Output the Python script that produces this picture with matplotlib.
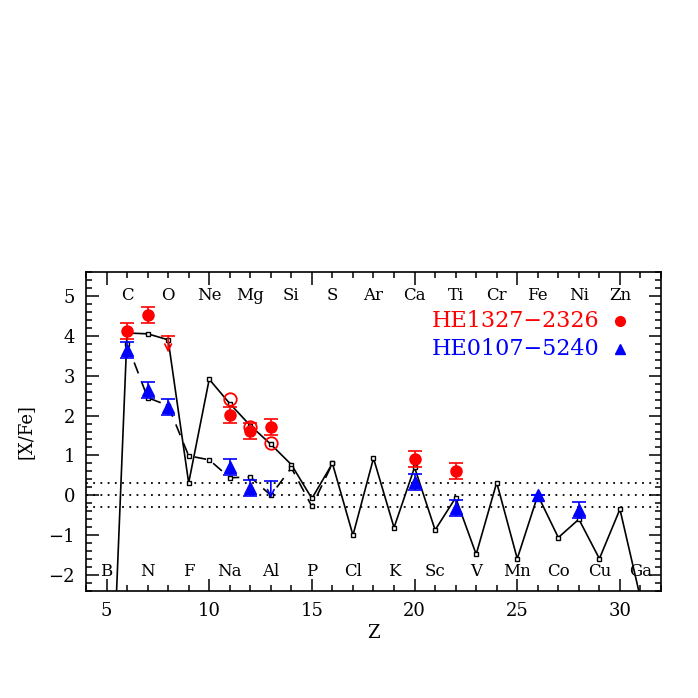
import numpy as np
import matplotlib.pyplot as plt
from matplotlib.ticker import MultipleLocator

plt.rcParams['font.family'] = ['DejaVu Serif']
plt.rcParams['mathtext.fontset'] = 'dejavuserif'

# model curves (solid and dashed)
z_solid = list(range(5, 32))
x_solid = [-8.6, 4.07, 4.05, 3.90, 0.31, 2.91, 2.30, 1.75, 1.28, 0.77, -0.08,
           0.80, -1.00, 0.93, -0.81, 0.70, -0.87, -0.06, -1.48, 0.32, -1.59,
           0.00, -1.06, -0.60, -1.59, -0.35, -2.58]
z_dash = list(range(6, 17))
x_dash = [3.80, 2.45, 2.25, 0.99, 0.89, 0.44, 0.46, 0.00, 0.69, -0.28, 0.80]

# HE1327-2326
z_red = [6, 7, 11, 12, 13, 20, 22]
x_red = [4.11, 4.52, 2.01, 1.62, 1.71, 0.90, 0.61]
e_red = [0.2, 0.2, 0.2, 0.2, 0.2, 0.2, 0.2]
z_red_open = [11, 12, 13]
x_red_open = [2.41, 1.72, 1.31]
z_red_lim = [8]
x_red_lim = [4.0]

# HE0107-5240
z_blue = [6, 7, 8, 11, 12, 20, 22, 26, 28]
x_blue = [3.64, 2.65, 2.21, 0.70, 0.18, 0.34, -0.31, 0.02, -0.36]
e_blue = [0.2, 0.2, 0.2, 0.2, 0.2, 0.2, 0.2, 0.0, 0.2]
z_blue_lim = [13]
x_blue_lim = [0.35]

top_elems = ['C', 'O', 'Ne', 'Mg', 'Si', 'S', 'Ar', 'Ca', 'Ti', 'Cr', 'Fe', 'Ni', 'Zn']
top_z = list(range(6, 31, 2))
bot_elems = ['B', 'N', 'F', 'Na', 'Al', 'P', 'Cl', 'K', 'Sc', 'V', 'Mn', 'Co', 'Cu', 'Ga']
bot_z = list(range(5, 32, 2))

red = '#ff0000'
blue = '#0000ff'

fig = plt.figure(figsize=(6.98, 6.98), dpi=100)
ax = fig.add_axes([0.1232, 0.1533, 0.8238, 0.457])

for y in (0.3, 0.0, -0.3):
    ax.axhline(y, color='black', ls=(0, (1, 3)), lw=1.3, zorder=1)

ax.plot(z_solid, x_solid, color='black', lw=1.2, marker='s', ms=3.5,
        mfc='white', mec='black', mew=1.0, zorder=2)
ax.plot(z_dash, x_dash, color='black', lw=1.2, dashes=(7, 5), marker='s', ms=3.5,
        mfc='white', mec='black', mew=1.0, zorder=2)

ax.errorbar(z_red, x_red, yerr=e_red, fmt='o', color=red, ms=8,
            capsize=5, elinewidth=1.2, capthick=1.2, zorder=4)
ax.plot(z_red_open, x_red_open, 'o', ms=9, mfc='none', mec=red, mew=1.3, zorder=4)
ax.errorbar(z_blue, x_blue, yerr=e_blue, fmt='^', color=blue, ms=8.5,
            capsize=5, elinewidth=1.2, capthick=1.2, zorder=3)

for z, v, c in [(z_red_lim[0], x_red_lim[0], red), (z_blue_lim[0], x_blue_lim[0], blue)]:
    ax.plot([z], [v], marker='_', ms=10, mew=1.2, color=c, zorder=4)
    ax.annotate('', xy=(z, v - 0.42), xytext=(z, v),
                arrowprops=dict(arrowstyle='->', color=c, lw=1.2,
                                shrinkA=0, shrinkB=0, mutation_scale=12),
                zorder=5)

for z, el in zip(top_z, top_elems):
    ax.text(z, 5.0, el, ha='center', va='center', fontsize=12)
for z, el in zip(bot_z, bot_elems):
    ax.text(z, -1.92, el, ha='center', va='center', fontsize=12)

ax.text(29.0, 4.37, 'HE1327\u22122326', color=red, ha='right', va='center', fontsize=16)
ax.text(29.0, 3.67, 'HE0107\u22125240', color=blue, ha='right', va='center', fontsize=16)
ax.plot([30], [4.37], 'o', color=red, ms=7)
ax.plot([30], [3.67], '^', color=blue, ms=7.5)

ax.set_xlim(4, 32)
ax.set_ylim(-2.4, 5.6)
ax.xaxis.set_major_locator(MultipleLocator(5))
ax.xaxis.set_minor_locator(MultipleLocator(1))
ax.yaxis.set_major_locator(MultipleLocator(1))
ax.yaxis.set_minor_locator(MultipleLocator(0.2))
ax.tick_params(which='both', direction='in', top=True, right=True, labelsize=13, width=1.1)
ax.tick_params(which='major', length=9, pad=8)
ax.tick_params(which='minor', length=4.5)
for s in ax.spines.values():
    s.set_linewidth(1.2)

ax.set_xlabel('Z', fontsize=13, labelpad=3)
ax.set_ylabel('[X/Fe]', fontsize=13, labelpad=10)

fig.savefig('out.png', dpi=100)
